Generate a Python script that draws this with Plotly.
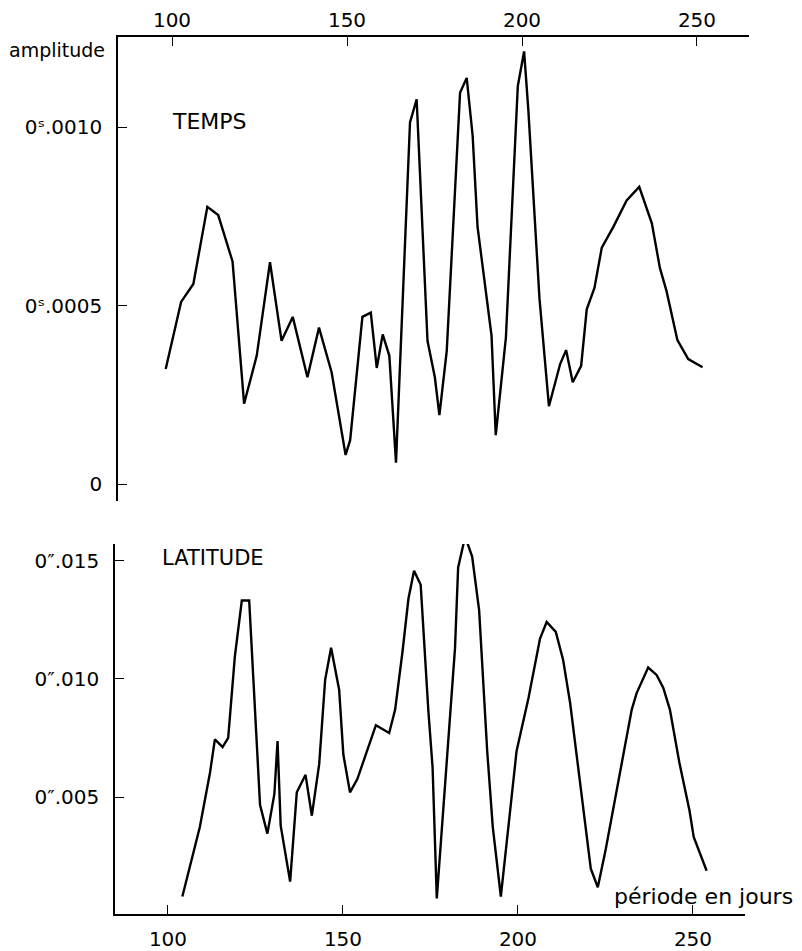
import plotly.graph_objects as go

# ---- data ----
temps_x = [98.2, 102.6, 106.1, 110.1, 113.2, 117.3, 120.6, 124.2, 128.0, 131.3, 134.5, 138.7,
           142.0, 145.6, 149.6, 150.9, 154.4, 156.8, 158.5, 160.2, 162.1, 164.0, 168.0, 169.9,
           173.0, 175.1, 176.4, 178.5, 182.3, 184.2, 185.9, 187.3, 191.3, 192.5, 195.4, 198.8,
           200.6, 201.8, 205.0, 207.7, 210.9, 212.6, 214.5, 216.9, 218.5, 220.7, 222.8, 226.1,
           229.9, 233.5, 237.1, 239.4, 241.3, 244.4, 247.5, 251.6]
temps_y = [0.000323, 0.000511, 0.000561, 0.000777, 0.000754, 0.000624, 0.000226, 0.000360,
           0.000622, 0.000402, 0.000469, 0.000300, 0.000439, 0.000314, 0.0000825, 0.000124,
           0.000469, 0.000481, 0.000326, 0.000420, 0.000360, 0.0000611, 0.001013, 0.001078,
           0.000402, 0.000300, 0.000194, 0.000374, 0.001096, 0.001138, 0.000976, 0.000721,
           0.000416, 0.000138, 0.000411, 0.001115, 0.001212, 0.001050, 0.000520, 0.000219,
           0.000337, 0.000376, 0.000286, 0.000332, 0.000490, 0.000550, 0.000663, 0.000721,
           0.000795, 0.000833, 0.000731, 0.000606, 0.000541, 0.000404, 0.000351, 0.000328]

lat_x = [104.1, 106.3, 109.1, 112.0, 113.4, 115.6, 117.2, 119.1, 121.1, 123.2, 126.3, 128.4,
         130.4, 131.3, 132.2, 134.9, 136.8, 139.3, 141.1, 143.2, 144.9, 146.6, 148.9, 150.1,
         152.0, 154.1, 159.4, 163.2, 164.9, 167.0, 168.7, 170.3, 172.2, 174.4, 175.6, 176.8,
         182.0, 182.9, 184.9, 186.9, 188.9, 191.2, 192.8, 195.1, 199.6, 203.0, 206.3, 208.2,
         210.8, 212.9, 214.9, 220.8, 222.8, 225.0, 229.1, 232.5, 233.9, 237.2, 239.6, 241.5,
         243.4, 246.1, 249.0, 250.2, 253.9]
lat_y = [0.00079, 0.00211, 0.00373, 0.00603, 0.00744, 0.00711, 0.00750, 0.01094, 0.01332,
         0.01332, 0.00466, 0.00345, 0.00513, 0.00737, 0.00379, 0.00142, 0.00520, 0.00594,
         0.00421, 0.00639, 0.00996, 0.01132, 0.00954, 0.00680, 0.00520, 0.00576, 0.00804,
         0.00771, 0.00870, 0.01115, 0.01339, 0.01458, 0.01398, 0.00863, 0.00625, 0.00071,
         0.01129, 0.01472, 0.01602, 0.01518, 0.01290, 0.00695, 0.00373, 0.00079, 0.00695,
         0.00919, 0.01171, 0.01241, 0.01199, 0.01080, 0.00898, 0.00197, 0.00118, 0.00274,
         0.00604, 0.00870, 0.00940, 0.01048, 0.01017, 0.00963, 0.00870, 0.00646, 0.00443,
         0.00331, 0.00188]

x_ticks = [100, 150, 200, 250]
x_ticktext = ["100", "150", "200", "250"]
temps_ticks = [0, 0.0005, 0.0010]
temps_ticktext = ["0", "0ˢ.0005", "0ˢ.0010"]
lat_ticks = [0.005, 0.010, 0.015]
lat_ticktext = ["0″.005", "0″.010", "0″.015"]

# page body has an 8px default margin: size the figure so it fits the window
OFF = 8
W, H = 802 - OFF, 951 - OFF
FONT = "DejaVu Sans"


def fx(p):
    return (p - OFF) / W


def fy(p):
    return 1 - (p - OFF) / H


fig = go.Figure()
fig.add_trace(go.Scatter(x=temps_x, y=temps_y, mode="lines", xaxis="x", yaxis="y",
                         line=dict(color="black", width=2.4), showlegend=False))
fig.add_trace(go.Scatter(x=lat_x, y=lat_y, mode="lines", xaxis="x2", yaxis="y2",
                         line=dict(color="black", width=2.4), showlegend=False))

axis_common = dict(showgrid=False, zeroline=False, showline=True, linecolor="black",
                   linewidth=1.6, ticks="inside", ticklen=9, tickwidth=1.4, tickcolor="black",
                   tickfont=dict(family=FONT, size=20, color="black"), mirror=False,
                   tickmode="array")

fig.update_layout(
    width=W, height=H,
    margin=dict(l=0, r=0, t=0, b=0),
    paper_bgcolor="white", plot_bgcolor="white",
    xaxis=dict(axis_common, domain=[fx(118), fx(749)], range=[84.57, 264.86], side="top",
               anchor="y", tickvals=x_ticks, ticktext=x_ticktext, ticklabelstandoff=0),
    yaxis=dict(axis_common, domain=[fy(505), fy(37)], range=[-0.0000472, 0.001253],
               side="left", anchor="x", tickvals=temps_ticks, ticktext=temps_ticktext,
               ticklabelstandoff=10),
    xaxis2=dict(axis_common, domain=[fx(115), fx(745)], range=[84.86, 264.86], side="bottom",
                anchor="y2", tickvals=x_ticks, ticktext=x_ticktext, ticklabelstandoff=6),
    yaxis2=dict(axis_common, domain=[fy(921), fy(548)], range=[0.00004, 0.01571],
                side="left", anchor="x2", tickvals=lat_ticks, ticktext=lat_ticktext,
                ticklabelstandoff=10),
)

annotations = [
    dict(text="amplitude", x=fx(7), y=fy(50), xref="paper", yref="paper",
         xanchor="left", yanchor="middle", showarrow=False,
         font=dict(family=FONT, size=19, color="black")),
    dict(text="TEMPS", x=fx(170), y=fy(122), xref="paper", yref="paper",
         xanchor="left", yanchor="middle", showarrow=False,
         font=dict(family=FONT, size=22, color="black")),
    dict(text="LATITUDE", x=fx(160), y=fy(562), xref="paper", yref="paper",
         xanchor="left", yanchor="middle", showarrow=False,
         font=dict(family=FONT, size=21, color="black")),
    dict(text="période en jours", x=fx(612), y=fy(903), xref="paper", yref="paper",
         xanchor="left", yanchor="middle", showarrow=False,
         font=dict(family=FONT, size=22, color="black")),
]
fig.update_layout(annotations=annotations)

fig.write_html("out.html")
